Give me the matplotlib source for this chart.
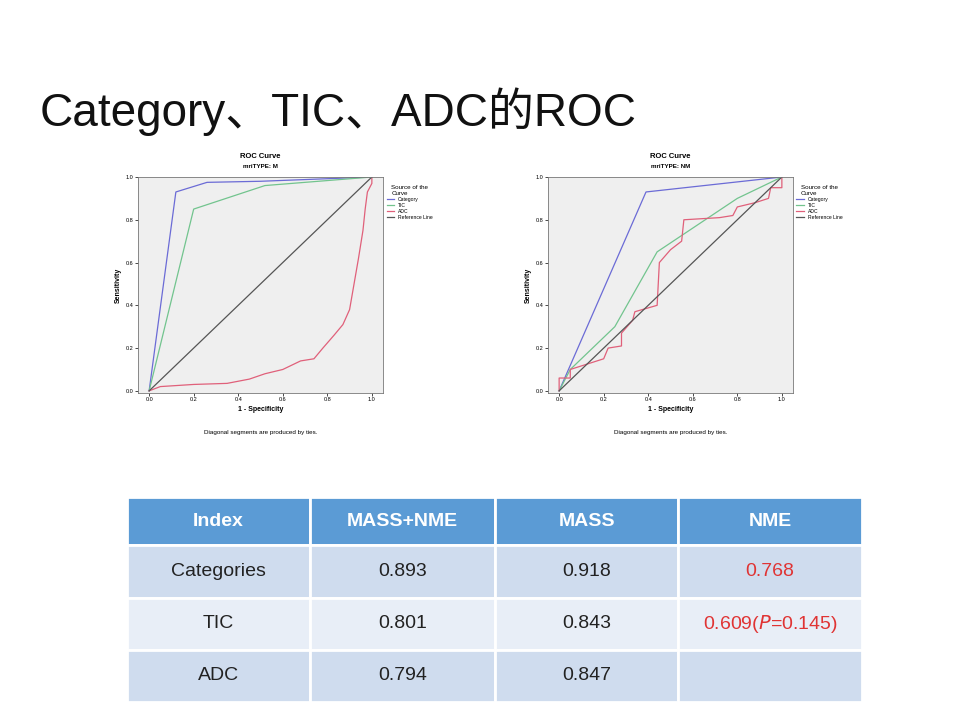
import matplotlib
matplotlib.use('Agg')
import matplotlib.pyplot as plt
from matplotlib.patches import Rectangle

plt.rcParams['font.family'] = ['Liberation Sans', 'Noto Sans CJK SC', 'DejaVu Sans']

# ROC data, mriTYPE: M
m_cat_x = [0, 0.12, 0.26, 0.5, 1.0]
m_cat_y = [0, 0.93, 0.975, 0.98, 1.0]
m_tic_x = [0, 0.2, 0.52, 1.0]
m_tic_y = [0, 0.85, 0.96, 1.0]
m_adc_x = [0, 0.05, 0.2, 0.35, 0.45, 0.52, 0.6, 0.68, 0.74, 0.78, 0.83, 0.87,
           0.9, 0.92, 0.94, 0.96, 0.97, 0.98, 1.0, 1.0]
m_adc_y = [0, 0.02, 0.03, 0.035, 0.055, 0.08, 0.1, 0.14, 0.15, 0.2, 0.26, 0.31,
           0.38, 0.5, 0.62, 0.75, 0.85, 0.93, 0.97, 1.0]

# ROC data, mriTYPE: NM
n_cat_x = [0, 0.39, 1.0]
n_cat_y = [0, 0.93, 1.0]
n_tic_x = [0, 0.05, 0.25, 0.44, 0.8, 1.0]
n_tic_y = [0, 0.1, 0.3, 0.65, 0.9, 1.0]
n_adc_x = [0, 0, 0.05, 0.05, 0.2, 0.22, 0.28, 0.28, 0.33, 0.34, 0.44, 0.45, 0.5,
           0.55, 0.56, 0.72, 0.78, 0.8, 0.88, 0.94, 0.95, 1.0, 1.0]
n_adc_y = [0, 0.06, 0.06, 0.1, 0.15, 0.2, 0.21, 0.27, 0.33, 0.37, 0.4, 0.6, 0.66,
           0.7, 0.8, 0.81, 0.82, 0.86, 0.88, 0.9, 0.95, 0.95, 1.0]

col_labels = ['Index', 'MASS+NME', 'MASS', 'NME']
row_labels = ['Categories', 'TIC', 'ADC']
auc_all = ['0.893', '0.801', '0.794']
auc_mass = ['0.918', '0.843', '0.847']
auc_nme = ['0.768', '0.609($\\mathit{P}$=0.145)', '']

W, H = 960, 720
fig = plt.figure(figsize=(9.6, 7.2), dpi=100)
fig.patch.set_facecolor('white')

fig.text(40 / W, 1 - 112 / H, 'Category、TIC、ADC的ROC', fontsize=33,
         va='center', ha='left', color='#111111')

C_CAT, C_TIC, C_ADC, C_REF = '#6b6bd6', '#72c48e', '#e0607a', '#555555'


def roc_panel(x0, sub, curves):
    ax = fig.add_axes([x0 / W, 1 - 393 / H, 245 / W, 216 / H])
    ax.set_facecolor('#efefef')
    (cx, cy), (tx, ty), (ax_, ay) = curves
    ax.plot(cx, cy, color=C_CAT, lw=0.9, label='Category')
    ax.plot(tx, ty, color=C_TIC, lw=0.9, label='TIC')
    ax.plot(ax_, ay, color=C_ADC, lw=0.9, label='ADC')
    ax.plot([0, 1], [0, 1], color=C_REF, lw=0.9, label='Reference Line')
    ax.set_xlim(-0.05, 1.05)
    ax.set_ylim(-0.01, 1.0)
    ticks = [0, 0.2, 0.4, 0.6, 0.8, 1.0]
    ax.set_xticks(ticks)
    ax.set_yticks(ticks)
    ax.tick_params(labelsize=4, length=2, width=0.5, pad=1)
    for s in ax.spines.values():
        s.set_linewidth(0.6)
        s.set_color('#777777')
    ax.set_xlabel('1 - Specificity', fontsize=5, fontweight='bold', labelpad=3)
    ax.set_ylabel('Sensitivity', fontsize=5, fontweight='bold', labelpad=3)
    ax.set_title('ROC Curve', fontsize=5.5, fontweight='bold', pad=14)
    ax.text(0.5, 1.04, 'mriTYPE: ' + sub, transform=ax.transAxes, ha='center',
            fontsize=4.5, fontweight='bold')
    ax.text(0.5, -0.19, 'Diagonal segments are produced by ties.',
            transform=ax.transAxes, ha='center', fontsize=4.5)
    ax.legend(loc='upper left', bbox_to_anchor=(1.0, 0.98), fontsize=3.6,
              title='Source of the\nCurve', title_fontsize=4.5,
              frameon=False, handlelength=1.5, borderaxespad=0.3,
              labelspacing=0.2)
    return ax


roc_panel(138, 'M', [(m_cat_x, m_cat_y), (m_tic_x, m_tic_y), (m_adc_x, m_adc_y)])
roc_panel(548, 'NM', [(n_cat_x, n_cat_y), (n_tic_x, n_tic_y), (n_adc_x, n_adc_y)])

# table
col_x = [127, 310, 495, 678, 862]
row_y = [497, 545, 598, 650, 702]
row_bg = ['#5b9bd5', '#cfdcee', '#e8eef7', '#cfdcee']
cells = [col_labels] + [[row_labels[i], auc_all[i], auc_mass[i], auc_nme[i]]
                        for i in range(len(row_labels))]
for r in range(4):
    for c in range(4):
        x0, x1 = col_x[c], col_x[c + 1]
        y0, y1 = row_y[r], row_y[r + 1]
        fig.patches.append(Rectangle((x0 / W, 1 - y1 / H), (x1 - x0) / W,
                                     (y1 - y0) / H, transform=fig.transFigure,
                                     facecolor=row_bg[r], edgecolor='white',
                                     lw=2))
        txt = cells[r][c]
        color = '#222222'
        weight = 'normal'
        if r == 0:
            color = 'white'
            weight = 'bold'
        elif c == 3:
            color = '#e03434'
        fig.text((x0 + x1) / 2 / W, 1 - (y0 + y1) / 2 / H, txt, ha='center',
                 va='center', fontsize=14, color=color, fontweight=weight)

fig.savefig('out.png', dpi=100)
